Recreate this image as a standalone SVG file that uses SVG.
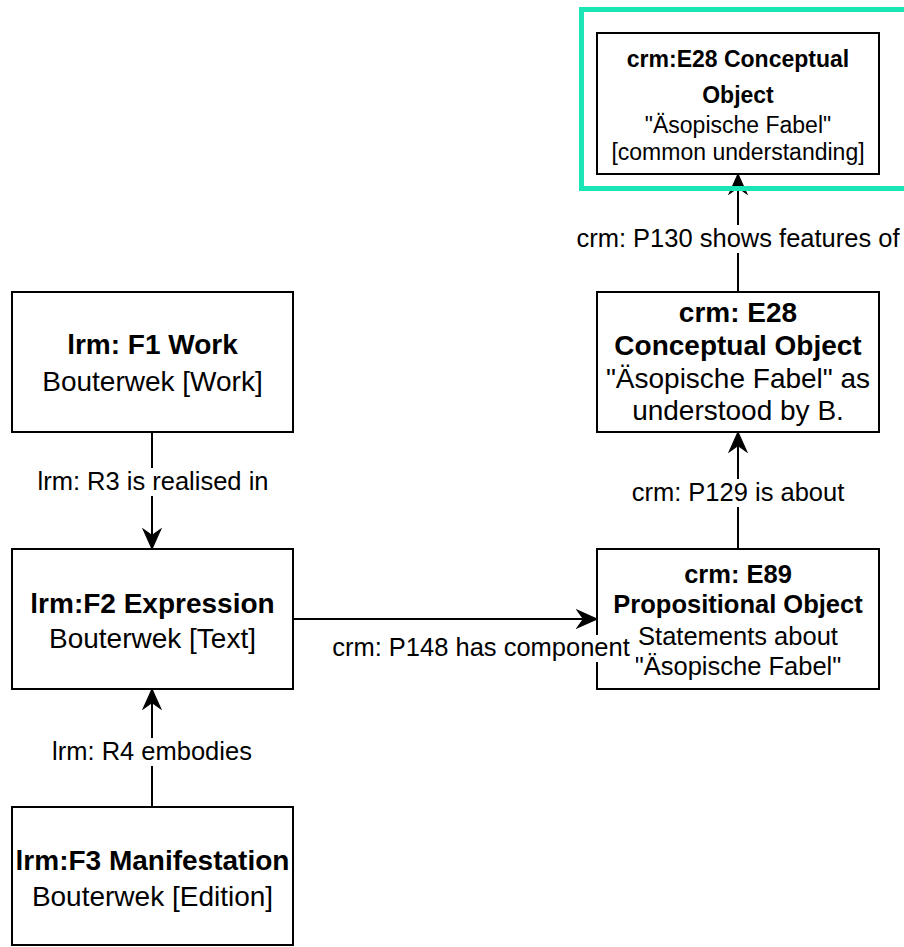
<svg xmlns="http://www.w3.org/2000/svg" width="904" height="947" viewBox="0 0 904 947">
<style>
  .box { fill: #ffffff; stroke: #000000; stroke-width: 2; }
  .t { font-family: "Liberation Sans", Arial, sans-serif; font-size: 28px; fill: #000000; text-anchor: middle; }
  .b { font-weight: bold; }
  .s { font-size: 23px; }
  .m { font-size: 25.5px; }
  .lbl { font-family: "Liberation Sans", Arial, sans-serif; font-size: 25.5px; fill: #000000; text-anchor: middle; }
  .lblbg { fill: #ffffff; stroke: none; }
  .edge { fill: none; stroke: #000000; stroke-width: 2; }
</style>
<defs>
  <marker id="arrow" markerUnits="userSpaceOnUse" markerWidth="22" markerHeight="22" viewBox="-20 -10 21 20" refX="0" refY="0" orient="auto">
    <path d="M0,0 L-19,-8.5 L-13,0 L-19,8.5 Z" fill="#000000" stroke="#000000" stroke-width="1"/>
  </marker>
</defs>
<rect width="904" height="947" fill="#ffffff"/>

<g id="connectors">
  <path class="edge" d="M152,432 L152,549" marker-end="url(#arrow)"/>
  <path class="edge" d="M152,807 L152,689" marker-end="url(#arrow)"/>
  <path class="edge" d="M293,619 L597,619" marker-end="url(#arrow)"/>
  <path class="edge" d="M738,549 L738,432" marker-end="url(#arrow)"/>
  <path class="edge" d="M738,292 L738,174" marker-end="url(#arrow)"/>
</g>

<g id="node-f1">
  <rect class="box" x="12" y="292" width="281" height="140"/>
  <text class="t b" x="152.5" y="354">lrm: F1 Work</text>
  <text class="t" x="152.5" y="391">Bouterwek [Work]</text>
</g>
<g id="node-f2">
  <rect class="box" x="12" y="549" width="281" height="140"/>
  <text class="t b" x="152.5" y="613">lrm:F2 Expression</text>
  <text class="t" x="152.5" y="648">Bouterwek [Text]</text>
</g>
<g id="node-f3">
  <rect class="box" x="12" y="807" width="281" height="138"/>
  <text class="t b" x="152.5" y="870">lrm:F3 Manifestation</text>
  <text class="t" x="152.5" y="906">Bouterwek [Edition]</text>
</g>
<g id="node-e89">
  <rect class="box" x="597" y="549" width="282" height="140"/>
  <text class="t b m" x="738" y="583">crm: E89</text>
  <text class="t b m" x="738" y="613">Propositional Object</text>
  <text class="t m" x="738" y="645">Statements about</text>
  <text class="t m" x="738" y="675">"Äsopische Fabel"</text>
</g>
<g id="node-e28">
  <rect class="box" x="597" y="292" width="282" height="140"/>
  <text class="t b" x="738" y="322">crm: E28</text>
  <text class="t b" x="738" y="355">Conceptual Object</text>
  <text class="t" x="738" y="388">"Äsopische Fabel" as</text>
  <text class="t" x="738" y="420">understood by B.</text>
</g>
<g id="node-e28-common">
  <rect class="box" x="597" y="33" width="282" height="141"/>
  <text class="t b s" x="738" y="67">crm:E28 Conceptual</text>
  <text class="t b s" x="738" y="103">Object</text>
  <text class="t s" x="738" y="133">"Äsopische Fabel"</text>
  <text class="t s" x="738" y="160">[common understanding]</text>
</g>

<g id="highlight">
  <rect x="581.5" y="9.5" width="340" height="179" fill="none" stroke="#19e6b4" stroke-width="5"/>
</g>

<g id="edge-labels">
  <rect class="lblbg" x="34" y="468" width="238" height="28"/>
  <text class="lbl" x="153" y="490">lrm: R3 is realised in</text>
  <rect class="lblbg" x="50" y="738" width="204" height="28"/>
  <text class="lbl" x="152" y="760">lrm: R4 embodies</text>
  <rect class="lblbg" x="328" y="635" width="308" height="27"/>
  <text class="lbl" x="481" y="656">crm: P148 has component</text>
  <rect class="lblbg" x="628" y="479" width="220" height="28"/>
  <text class="lbl" x="738" y="501">crm: P129 is about</text>
  <rect class="lblbg" x="574" y="225" width="330" height="28"/>
  <text class="lbl" x="738" y="247">crm: P130 shows features of</text>
</g>
</svg>
